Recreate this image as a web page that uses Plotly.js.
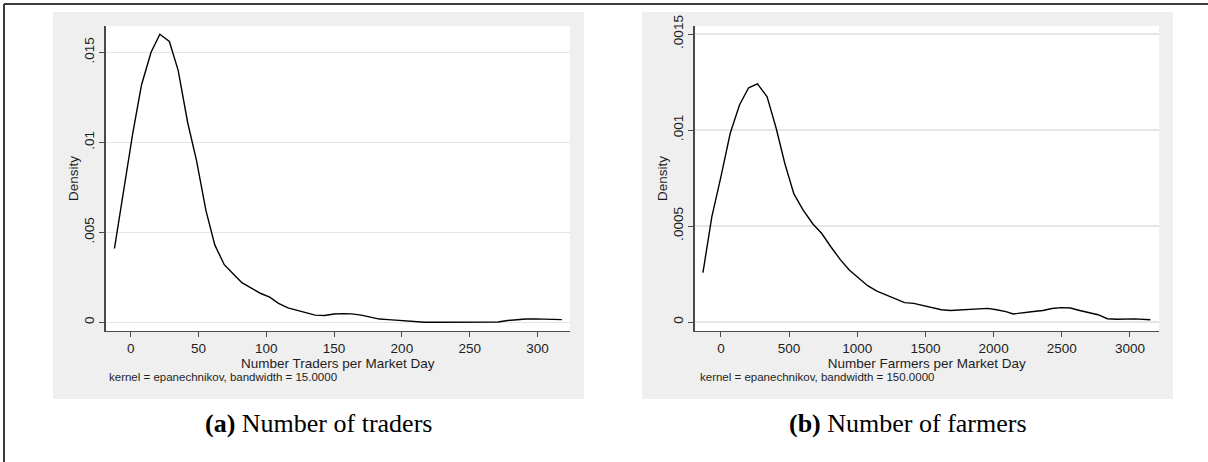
<!DOCTYPE html>
<html>
<head>
<meta charset="utf-8">
<script src="https://cdn.plot.ly/plotly-3.0.1.min.js"></script>
<style>html,body{margin:0;padding:0;background:#fff;}#chart{width:1208px;height:462px;}</style>
</head>
<body>
<div id="chart"></div>
<script>
// ---- Data: panel (a) traders ----
const tradersX = [-12, -5.5, 1.5, 8, 15, 21.5, 28.5, 35, 42, 48.5, 55.5, 62, 69, 75.5, 82, 89, 96, 102.5, 109, 116, 123, 129.5, 136, 143, 150, 156.5, 163, 170, 177, 183.5, 190, 197, 204, 210.5, 217, 224, 231, 237.5, 244, 251, 258, 264.5, 271, 278, 285, 291.5, 298, 305, 312, 318];
const tradersDensity = [0.0041, 0.0072, 0.0105, 0.0132, 0.0150, 0.0160, 0.0156, 0.0140, 0.0111, 0.0090, 0.0062, 0.0043, 0.0032, 0.0027, 0.0022, 0.0019, 0.0016, 0.0014, 0.00105, 0.0008, 0.00065, 0.0005, 0.0004, 0.00038, 0.00046, 0.00048, 0.00047, 0.0004, 0.00028, 0.00018, 0.00015, 0.00011, 0.00005, 0.0, 0.0, 0.0, 0.0, 0.0, 0.0, 0.0, 0.0, 0.0, 0.00002, 0.0001, 0.00015, 0.00018, 0.00019, 0.00019, 0.00018, 0.00015];
const tradersTickVals = [0, 50, 100, 150, 200, 250, 300];
const tradersYTickVals = [0, 0.005, 0.01, 0.015];
const tradersYTickText = ["0", ".005", ".01", ".015"];

// ---- Data: panel (b) farmers ----
const farmersX = [-132, -67, 0, 68, 136, 203, 268, 338, 405, 468, 535, 603, 676, 738, 806, 874, 941, 1009, 1076, 1144, 1212, 1279, 1347, 1414, 1482, 1549, 1617, 1685, 1820, 1955, 2022, 2090, 2144, 2225, 2293, 2361, 2428, 2496, 2563, 2631, 2699, 2766, 2834, 2902, 3037, 3150];
const farmersDensity = [0.000257, 0.000548, 0.000757, 0.000983, 0.00113, 0.00122, 0.00124, 0.001174, 0.001009, 0.000827, 0.000667, 0.000583, 0.000509, 0.000462, 0.000392, 0.000326, 0.000271, 0.000231, 0.000189, 0.000161, 0.000141, 0.00012, 0.000101, 0.000097, 0.000087, 0.000075, 0.000064, 0.00006, 0.000066, 0.000071, 0.000064, 0.000054, 0.000042, 0.000047, 0.000055, 0.00006, 0.00007, 0.000075, 0.000073, 0.00006, 0.00005, 0.000038, 0.000017, 0.000014, 0.000016, 0.000012];
const farmersTickVals = [0, 500, 1000, 1500, 2000, 2500, 3000];
const farmersYTickVals = [0, 0.0005, 0.001, 0.0015];
const farmersYTickText = ["0", ".0005", ".001", ".0015"];

// ---- Text ----
const xTitles = ["Number Traders per Market Day", "Number Farmers per Market Day"];
const yTitle = "Density";
const notes = ["kernel = epanechnikov, bandwidth = 15.0000", "kernel = epanechnikov, bandwidth = 150.0000"];
const captions = ["<b>(a)</b> Number of traders", "<b>(b)</b> Number of farmers"];

// ---- Layout helpers (pixel geometry) ----
const W = 1208, H = 462;
const px = v => v / W;
const py = v => 1 - v / H;

const AXIS_COLOR = "#4a4a4a";
const GRID_COLOR = "#e6e6e6";
const TEXT_COLOR = "#1e1e1e";
const FONT = "Liberation Sans, Arial, sans-serif";

function xAxis(domain, range, tickvals, title, anchor) {
  return {
    domain: domain, range: range, anchor: anchor,
    tickvals: tickvals, ticks: "outside", ticklen: 5, tickwidth: 1, tickcolor: AXIS_COLOR,
    showline: true, linecolor: AXIS_COLOR, linewidth: 1.2, mirror: false,
    showgrid: false, zeroline: false,
    tickfont: {family: FONT, size: 13.5, color: TEXT_COLOR},
    title: {text: title, font: {family: FONT, size: 13.5, color: TEXT_COLOR}, standoff: 0}
  };
}
function yAxis(domain, range, tickvals, ticktext, anchor) {
  return {
    domain: domain, range: range, anchor: anchor,
    tickvals: tickvals, ticktext: ticktext, tickangle: -90,
    ticks: "outside", ticklen: 5, tickwidth: 1, tickcolor: AXIS_COLOR,
    showline: true, linecolor: AXIS_COLOR, linewidth: 1.2, mirror: false,
    showgrid: true, gridcolor: GRID_COLOR, gridwidth: 1.2, zeroline: false,
    tickfont: {family: FONT, size: 13.5, color: TEXT_COLOR},
    title: {text: yTitle, font: {family: FONT, size: 13.5, color: TEXT_COLOR}, standoff: 0}
  };
}

const yDom = [py(331), py(26)];

const traces = [
  {x: tradersX, y: tradersDensity, type: "scatter", mode: "lines", xaxis: "x", yaxis: "y",
   line: {color: "#000", width: 1.4}, hoverinfo: "skip", showlegend: false},
  {x: farmersX, y: farmersDensity, type: "scatter", mode: "lines", xaxis: "x2", yaxis: "y2",
   line: {color: "#000", width: 1.4}, hoverinfo: "skip", showlegend: false}
];

const shapes = [
  // gray graph regions
  {type: "rect", xref: "paper", yref: "paper", x0: px(53), x1: px(584), y0: py(399), y1: py(12), fillcolor: "#efefef", line: {width: 0}, layer: "below"},
  {type: "rect", xref: "paper", yref: "paper", x0: px(642), x1: px(1173), y0: py(399), y1: py(12), fillcolor: "#efefef", line: {width: 0}, layer: "below"},
  // white plot regions
  {type: "rect", xref: "paper", yref: "paper", x0: px(105.5), x1: px(570), y0: py(331), y1: py(26), fillcolor: "#ffffff", line: {width: 0}, layer: "below"},
  {type: "rect", xref: "paper", yref: "paper", x0: px(694.5), x1: px(1159), y0: py(331), y1: py(26), fillcolor: "#ffffff", line: {width: 0}, layer: "below"},
  // figure frame (top and left)
  {type: "line", xref: "paper", yref: "paper", x0: px(4), x1: 1, y0: py(4), y1: py(4), line: {color: "#3c3c3c", width: 2}},
  {type: "line", xref: "paper", yref: "paper", x0: px(4), x1: px(4), y0: py(4), y1: 0, line: {color: "#3c3c3c", width: 2}}
];

const annotations = [
  {xref: "paper", yref: "paper", x: px(107), y: py(377), xanchor: "left", yanchor: "middle", showarrow: false,
   text: notes[0], font: {family: FONT, size: 11.5, color: TEXT_COLOR}},
  {xref: "paper", yref: "paper", x: px(698), y: py(377), xanchor: "left", yanchor: "middle", showarrow: false,
   text: notes[1], font: {family: FONT, size: 11.5, color: TEXT_COLOR}},
  {xref: "paper", yref: "paper", x: px(318.5), y: py(423), xanchor: "center", yanchor: "middle", showarrow: false,
   text: captions[0], font: {family: "Liberation Serif, Times New Roman, serif", size: 26, color: "#000"}},
  {xref: "paper", yref: "paper", x: px(907.5), y: py(423), xanchor: "center", yanchor: "middle", showarrow: false,
   text: captions[1], font: {family: "Liberation Serif, Times New Roman, serif", size: 26, color: "#000"}}
];

const layout = {
  width: W, height: H,
  margin: {l: 0, r: 0, t: 0, b: 0, pad: 0},
  paper_bgcolor: "#ffffff", plot_bgcolor: "rgba(0,0,0,0)",
  showlegend: false,
  xaxis: xAxis([px(105.5), px(570)], [-18.6, 324], tradersTickVals, xTitles[0], "y"),
  yaxis: yAxis(yDom, [-0.000483, 0.016461], tradersYTickVals, tradersYTickText, "x"),
  xaxis2: xAxis([px(694.5), px(1159)], [-194, 3213], farmersTickVals, xTitles[1], "y2"),
  yaxis2: yAxis(yDom, [-0.0000469, 0.0015417], farmersYTickVals, farmersYTickText, "x2"),
  shapes: shapes,
  annotations: annotations
};

Plotly.newPlot("chart", traces, layout, {staticPlot: true, displayModeBar: false});
</script>
</body>
</html>
